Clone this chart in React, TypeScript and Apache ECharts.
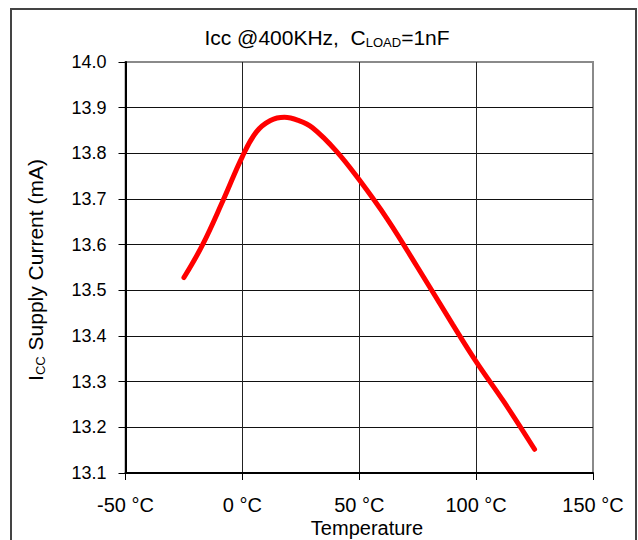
import React, { useEffect, useRef } from "react";
import * as echarts from "echarts";

const temperatures = [-25, -17, -8, 0, 6, 12, 18, 24, 30, 40, 50, 62, 75, 90, 100, 112, 125];
const iccValues = [13.528, 13.6, 13.7, 13.793, 13.847, 13.872, 13.879, 13.872, 13.856, 13.806, 13.742, 13.656, 13.55, 13.425, 13.344, 13.255, 13.152];
const xTicks = { min: -50, max: 150, interval: 50 };
const yTicks = { min: 13.1, max: 14.0, interval: 0.1 };

const FONT = '"Liberation Sans", Arial, sans-serif';

export default function App() {
  const ref = useRef<HTMLDivElement>(null);
  useEffect(() => {
    if (!ref.current) return;
    const chart = echarts.init(ref.current, undefined, { renderer: "svg" });
    const data = temperatures.map((t, i) => [t, iccValues[i]]);
    chart.setOption({
      animation: false,
      backgroundColor: "#ffffff",
      textStyle: { fontFamily: FONT },
      grid: {
        left: 125.5,
        right: 45,
        top: 62,
        bottom: 67,
        show: true,
        borderColor: "#8a8a8a",
        borderWidth: 2,
        backgroundColor: "transparent",
      },
      xAxis: {
        type: "value",
        min: xTicks.min,
        max: xTicks.max,
        interval: xTicks.interval,
        axisLine: { show: true, onZero: false, lineStyle: { color: "#000", width: 2 } },
        axisTick: { show: true, length: 7, lineStyle: { color: "#000", width: 1 } },
        axisLabel: {
          margin: 22,
          fontSize: 20,
          color: "#000",
          fontFamily: FONT,
          formatter: (v: number) => `${v} °C`,
        },
        splitLine: { show: true, showMinLine: false, showMaxLine: false, lineStyle: { color: "#222", width: 1 } },
      },
      yAxis: {
        type: "value",
        min: yTicks.min,
        max: yTicks.max,
        interval: yTicks.interval,
        axisLine: { show: true, onZero: false, lineStyle: { color: "#000", width: 2 } },
        axisTick: { show: true, length: 7, lineStyle: { color: "#000", width: 1 } },
        axisLabel: {
          margin: 19,
          fontSize: 18,
          color: "#000",
          fontFamily: FONT,
          formatter: (v: number) => v.toFixed(1),
        },
        splitLine: { show: true, showMinLine: false, showMaxLine: false, lineStyle: { color: "#111", width: 1 } },
      },
      graphic: [
        {
          type: "rect",
          silent: true,
          z: -10,
          shape: { x: 11, y: 9, width: 625, height: 545 },
          style: { fill: "none", stroke: "#444", lineWidth: 2 },
        },
        {
          type: "text",
          x: 327,
          y: 37,
          style: {
            text: "{a|Icc @400KHz,  C}{s|LOAD}{a|=1nF}",
            align: "center",
            verticalAlign: "middle",
            rich: {
              a: { fontSize: 21, fontFamily: FONT, fill: "#000" },
              s: { fontSize: 13, fontFamily: FONT, fill: "#000", padding: [10, 0, 0, 0] },
            },
          },
        },
        {
          type: "text",
          x: 35,
          y: 270,
          rotation: Math.PI / 2,
          style: {
            text: "{a|I}{s|CC}{a| Supply Current (mA)}",
            align: "center",
            verticalAlign: "middle",
            rich: {
              a: { fontSize: 21, fontFamily: FONT, fill: "#000" },
              s: { fontSize: 13, fontFamily: FONT, fill: "#000", padding: [10, 0, 0, 0] },
            },
          },
        },
        {
          type: "text",
          x: 367,
          y: 528,
          style: {
            text: "Temperature",
            align: "center",
            verticalAlign: "middle",
            fontSize: 20,
            fontFamily: FONT,
            fill: "#000",
          },
        },
      ],
      series: [
        {
          type: "line",
          data,
          smooth: 0.4,
          showSymbol: false,
          symbol: "none",
          lineStyle: { color: "#ff0000", width: 5, cap: "round" },
          z: 5,
        },
      ],
    });
    return () => chart.dispose();
  }, []);
  return (
    <div
      ref={ref}
      style={{ position: "fixed", left: 0, top: 0, width: 638, height: 540 }}
    />
  );
}
